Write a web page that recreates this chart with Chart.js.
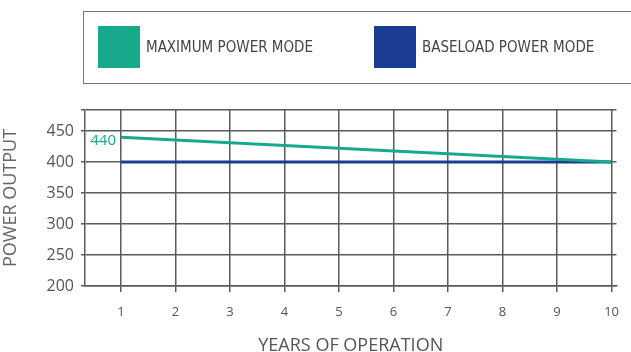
<!DOCTYPE html>
<html>
<head>
<meta charset="utf-8">
<script src="https://cdn.jsdelivr.net/npm/chart.js@4"></script>
<style>
  html, body { margin: 0; padding: 0; background: #fff; }
  #wrap { position: relative; width: 631px; height: 352px; overflow: hidden; }
  #legendBox {
    position: absolute; left: 83px; top: 11px; width: 560px; height: 73px;
    border: 1.5px solid #777; box-sizing: border-box;
  }
  .item { position: absolute; top: 14px; height: 42px; display: flex; align-items: center; }
  .swatch { width: 42px; height: 42px; margin-right: 6px; }
  .item span { font-family: "DejaVu Sans Condensed", "Open Sans", sans-serif; font-size: 15px; color: #444; }
  canvas { position: absolute; left: 0; top: 0; }
</style>
</head>
<body>
<div id="wrap">
  <canvas id="powerChart" width="631" height="352"></canvas>
  <div id="legendBox"></div>
</div>
<script>
// data
const years = [1, 2, 3, 4, 5, 6, 7, 8, 9, 10];
const yTicks = [200, 250, 300, 350, 400, 450];
const maxPowerData = [{ x: 1, y: 440 }, { x: 10, y: 400 }];
const baseloadData = [{ x: 1, y: 400 }, { x: 10, y: 400 }];
const seriesNames = ['MAXIMUM POWER MODE', 'BASELOAD POWER MODE'];
const seriesColors = ['#17a98b', '#1a3c93'];

// legend (html)
const legendBox = document.getElementById('legendBox');
const legendLeft = [14, 290];
seriesNames.forEach(function (name, i) {
  const it = document.createElement('div');
  it.className = 'item';
  it.style.left = legendLeft[i] + 'px';
  it.innerHTML = '<div class="swatch" style="background:' + seriesColors[i] + '"></div><span>' + name + '</span>';
  legendBox.appendChild(it);
});

// label "440" at start of the green line
const startLabel = {
  id: 'startLabel',
  afterDatasetsDraw(chart) {
    const pt = chart.getDatasetMeta(0).data[0];
    const ctx = chart.ctx;
    ctx.save();
    ctx.font = '15px "Open Sans"';
    ctx.fillStyle = seriesColors[0];
    ctx.textAlign = 'right';
    ctx.textBaseline = 'middle';
    ctx.fillText(String(maxPowerData[0].y), pt.x - 5, pt.y + 3);
    ctx.restore();
  }
};

const gridColor = '#5a5a5a';
const ctx = document.getElementById('powerChart').getContext('2d');
const powerChart = new Chart(ctx, {
  type: 'scatter',
  data: {
    datasets: [
      {
        label: seriesNames[0],
        data: maxPowerData,
        showLine: true,
        borderColor: seriesColors[0],
        borderWidth: 3,
        pointRadius: 0
      },
      {
        label: seriesNames[1],
        data: baseloadData,
        showLine: true,
        borderColor: seriesColors[1],
        borderWidth: 3,
        pointRadius: 0
      }
    ]
  },
  options: {
    responsive: false,
    animation: false,
    layout: { padding: { top: 110, right: 0, left: 0, bottom: 0 } },
    plugins: {
      legend: { display: false },
      tooltip: { enabled: false }
    },
    scales: {
      x: {
        type: 'linear',
        min: 0.34,
        max: 10.09,
        afterBuildTicks: function (axis) {
          axis.ticks = years.map(v => ({ value: v }));
        },
        afterFit: function (axis) { axis.height = 66; },
        grid: { color: gridColor, lineWidth: 1.5, tickLength: 6 },
        border: { color: gridColor, width: 1.5 },
        ticks: {
          color: '#555',
          font: { family: 'Open Sans', size: 13 },
          padding: 12,
          maxRotation: 0
        },
        title: {
          display: true,
          text: 'YEARS OF OPERATION',
          color: '#555',
          font: { family: 'Open Sans', size: 18 },
          padding: { top: 0, bottom: -5 }
        }
      },
      y: {
        min: 200,
        max: 484,
        afterBuildTicks: function (axis) {
          axis.ticks = yTicks.concat([484]).map(v => ({ value: v }));
        },
        afterFit: function (axis) { axis.width = 85; },
        grid: { color: gridColor, lineWidth: 1.5, tickLength: 4 },
        border: { color: gridColor, width: 1.5 },
        ticks: {
          color: '#555',
          font: { family: 'Open Sans', size: 16 },
          padding: 7,
          callback: function (value) { return yTicks.includes(value) ? value : ''; }
        },
        title: {
          display: true,
          text: 'POWER OUTPUT',
          color: '#666',
          font: { family: 'Open Sans', size: 18 },
          padding: { top: 0, bottom: 4 }
        }
      }
    }
  },
  plugins: [startLabel]
});
</script>
</body>
</html>
